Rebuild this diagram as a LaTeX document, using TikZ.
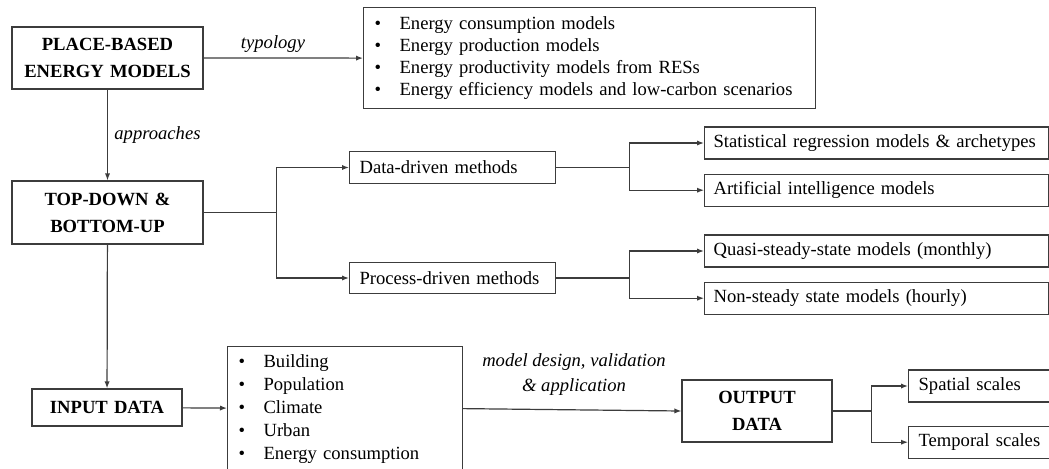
\documentclass[tikz,border=0pt]{standalone}
\usepackage{fontspec}
\setmainfont{Liberation Serif}
\usetikzlibrary{arrows.meta, positioning}
\definecolor{linecol}{RGB}{60,60,60}
\newcommand{\bul}{\makebox[12.5pt][l]{\textbullet}}

\begin{document}
\begin{tikzpicture}[x=0.5pt, y=-0.5pt,
    box/.style={draw=linecol, line width=0.6pt, inner ysep=0pt},
    mainbox/.style={box, align=center, inner xsep=0pt, text width=#1,
        font=\fontsize{9.3}{13.5}\selectfont\bfseries},
    listbox/.style={box, align=left, inner xsep=5.5pt, anchor=north west,
        text width=#1},
    methbox/.style={box, align=left, inner xsep=5pt, text width=#1,
        minimum height=15.75pt, anchor=west, font=\fontsize{9.3}{11}\selectfont},
    rbox/.style={box, align=left, inner xsep=4.5pt, text width=163pt,
        minimum height=16pt, anchor=west, font=\fontsize{9.3}{11}\selectfont},
    lbl/.style={font=\fontsize{9.3}{12.5}\selectfont\itshape, inner sep=0pt},
    conn/.style={draw=linecol, line width=0.6pt},
    arr/.style={conn, -{Latex[length=3.5pt, width=2.6pt]}}
]
\path[use as bounding box, clip] (0,0) rectangle (1049,468);

% left column
\node[mainbox=95.5pt, minimum height=31pt] (place) at (107.5,58) {PLACE-BASED\\ENERGY MODELS};
\node[mainbox=95.5pt, minimum height=31.5pt] (topdown) at (107.5,212.5) {TOP-DOWN \&\\BOTTOM-UP};
\node[mainbox=75pt, minimum height=18.5pt] (input) at (107,407.5) {INPUT DATA};

% lists
\node[listbox=215pt, minimum height=50.5pt, font=\fontsize{9.3}{11}\selectfont] (types) at (363,7) {%
    \bul Energy consumption models\\
    \bul Energy production models\\
    \bul Energy productivity models from RESs\\
    \bul Energy efficiency models and low-carbon scenarios};
\node[listbox=106.5pt, minimum height=62pt, font=\fontsize{9.3}{11.5}\selectfont] (inlist) at (227,346) {%
    \bul Building\\
    \bul Population\\
    \bul Climate\\
    \bul Urban\\
    \bul Energy consumption};

% methods
\node[methbox=93pt] (data) at (349,167.5) {Data-driven methods};
\node[methbox=93pt] (process) at (349,278) {Process-driven methods};
\node[rbox] (stat) at (704,143) {Statistical regression models \& archetypes};
\node[rbox, below=7pt of stat] (art) {Artificial intelligence models};
\node[rbox] (quasi) at (704,251) {Quasi-steady-state models (monthly)};
\node[rbox, below=7pt of quasi] (nonsteady) {Non-steady state models (hourly)};

% output
\node[mainbox=75pt, minimum height=31pt] (output) at (757,411) {OUTPUT\\DATA};
\node[rbox, text width=72pt, inner xsep=5pt] (spatial) at (908,386) {Spatial scales};
\node[rbox, text width=72pt, inner xsep=5pt, below=11.5pt of spatial] (temporal) {Temporal scales};

% labels
\node[lbl] (typ) at (273,44) {typology};
\node[lbl, anchor=west] (appr) at (114,135) {approaches};
\node[lbl, align=center] (mdv) at (574,374.5) {model design, validation\\\& application};

% connectors
\draw[arr] (place.east) -- (types.west);
\draw[arr] (place) -- (topdown);
\draw[arr] (topdown) -- (input);
\draw[arr] (input) -- (inlist);
\draw[arr] (inlist.east) -- (output.west);

\draw[arr] (topdown.east) -- ++(73,0) coordinate (s1) |- (data.west);
\draw[arr] (s1) |- (process.west);
\draw[arr] (data.east) -- ++(73,0) coordinate (s2) |- (stat.west);
\draw[arr] (s2) |- (art.west);
\draw[arr] (process.east) -- ++(73,0) coordinate (s3) |- (quasi.west);
\draw[arr] (s3) |- (nonsteady.west);
\draw[arr] (output.east) -- ++(39,0) coordinate (s4) |- (spatial.west);
\draw[arr] (s4) |- (temporal.west);

\end{tikzpicture}
\end{document}
